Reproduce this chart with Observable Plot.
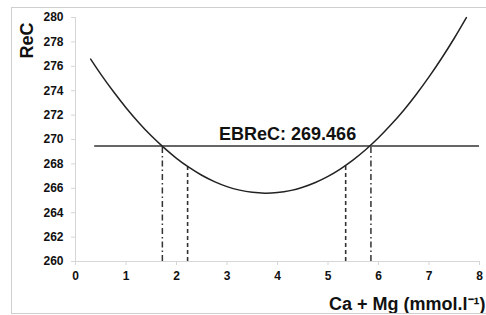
<!DOCTYPE html>
<html>
<head>
<meta charset="utf-8">
<script src="https://cdn.jsdelivr.net/npm/d3@7"></script>
<script src="https://cdn.jsdelivr.net/npm/@observablehq/plot@0.6"></script>
<style>
  html, body { margin: 0; padding: 0; background: #fff; }
  #wrap { position: relative; width: 486px; height: 315px; overflow: hidden; }
  #frame { position: absolute; left: 11px; top: 7px; width: 490px; height: 307px; border: 1px solid #cfcfcf; box-sizing: border-box; pointer-events: none; }
</style>
</head>
<body>
<div id="wrap"><div id="frame"></div></div>
<script>
// Curve ReC vs Ca + Mg
const caMg = [0.3, 0.5, 0.75, 1.0, 1.25, 1.5, 1.75, 2.0, 2.25, 2.5, 2.75, 3.0, 3.25, 3.5, 3.75, 4.0, 4.25, 4.5, 4.75, 5.0, 5.25, 5.5, 5.75, 6.0, 6.25, 6.5, 6.75, 7.0, 7.25, 7.5, 7.74];
const reC  = [276.59, 275.36, 273.93, 272.61, 271.40, 270.30, 269.33, 268.46, 267.71, 267.07, 266.55, 266.14, 265.85, 265.67, 265.60, 265.65, 265.81, 266.09, 266.48, 266.98, 267.60, 268.33, 269.18, 270.14, 271.22, 272.40, 273.71, 275.13, 276.66, 278.30, 279.99];

const ebrec = 269.466;
const ebrecStart = 0.38;
const ebrecEnd = 8;
const ebrecLabel = "EBReC: 269.466";
const ebrecLabelX = 4.2;

// vertical markers
const dashDotX = [1.72, 5.85];      // where the curve crosses EBReC
const dashedX = [2.22, 5.35];
const dashedTop = [267.79, 267.88];

const xTicks = [0, 1, 2, 3, 4, 5, 6, 7, 8];
const yTicks = [260, 262, 264, 266, 268, 270, 272, 274, 276, 278, 280];
const xTitle = "Ca + Mg (mmol.l⁻¹)";
const yTitle = "ReC";

const curve = caMg.map((x, i) => ({x, y: reC[i]}));
const dd = dashDotX.map(x => ({x, y1: 260, y2: ebrec}));
const ds = dashedX.map((x, i) => ({x, y1: 260, y2: dashedTop[i]}));

const axisGray = "#d6d6d6";

const chart = Plot.plot({
  width: 486,
  height: 315,
  marginLeft: 75,
  marginRight: 7,
  marginTop: 17,
  marginBottom: 54,
  style: {fontFamily: "'Liberation Sans', Arial, sans-serif", fontWeight: "bold", fontSize: "12px", background: "transparent", color: "#111"},
  x: {domain: [0, 8]},
  y: {domain: [260, 280]},
  marks: [
    Plot.ruleX([0], {y1: 260, y2: 280, stroke: axisGray, strokeWidth: 1}),
    Plot.ruleY([260], {x1: 0, x2: 8, stroke: axisGray, strokeWidth: 1.2}),
    Plot.axisY({ticks: yTicks, tickSize: 4, tickPadding: 8, stroke: axisGray, fill: "#111", label: null, fontWeight: "bold"}),
    Plot.axisX({ticks: xTicks, tickSize: 4, tickPadding: 6, stroke: axisGray, fill: "#111", label: null, fontWeight: "bold"}),
    Plot.ruleY([ebrec], {x1: ebrecStart, x2: ebrecEnd, stroke: "#333", strokeWidth: 1.3}),
    Plot.ruleX(dd, {x: "x", y1: "y1", y2: "y2", stroke: "#333", strokeWidth: 1.5, strokeDasharray: "6,3,1.5,3"}),
    Plot.ruleX(ds, {x: "x", y1: "y1", y2: "y2", stroke: "#333", strokeWidth: 1.6, strokeDasharray: "4,3"}),
    Plot.line(curve, {x: "x", y: "y", curve: "natural", stroke: "#222", strokeWidth: 1.5}),
    Plot.text([ebrecLabel], {x: ebrecLabelX, y: ebrec, text: d => d, dy: -6, lineAnchor: "bottom", textAnchor: "middle", fontSize: 18, fontWeight: "bold", fill: "#111"}),
    Plot.text([xTitle], {frameAnchor: "bottom-right", text: d => d, dx: 6, dy: 48, lineAnchor: "bottom", textAnchor: "end", fontSize: 18, fontWeight: "bold", fill: "#111"}),
    Plot.text([yTitle], {frameAnchor: "top-left", text: d => d, rotate: -90, dx: -48, dy: 23, textAnchor: "middle", lineAnchor: "middle", fontSize: 18, fontWeight: "bold", fill: "#111"})
  ]
});
document.getElementById("wrap").insertBefore(chart, document.getElementById("frame"));
</script>
</body>
</html>
